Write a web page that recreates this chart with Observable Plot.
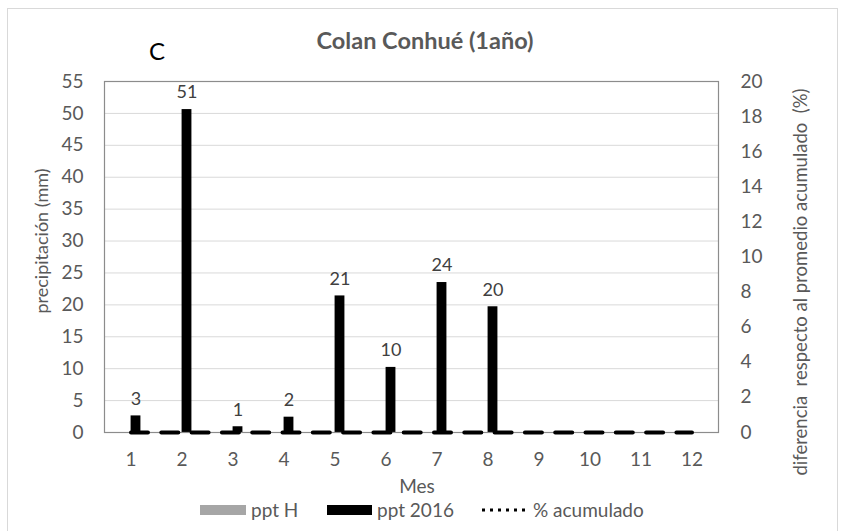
<!DOCTYPE html>
<html>
<head>
<meta charset="utf-8">
<script src="https://cdn.jsdelivr.net/npm/d3@7"></script>
<script src="https://cdn.jsdelivr.net/npm/@observablehq/plot@0.6"></script>
<style>
  html, body { margin: 0; padding: 0; background: #fff; }
  #chart svg { display: block; }
</style>
</head>
<body>
<div id="chart"></div>
<script>
// ---- data ----
const months = [1, 2, 3, 4, 5, 6, 7, 8, 9, 10, 11, 12];
const pptH = [0, 0, 0, 0, 0, 0, 0, 0, 0, 0, 0, 0];
const ppt2016 = [2.6, 50.6, 0.9, 2.4, 21.4, 10.2, 23.5, 19.7, 0, 0, 0, 0];
const pctAcumulado = [0, 0, 0, 0, 0, 0, 0, 0, 0, 0, 0, 0];
const leftTicks = [0, 5, 10, 15, 20, 25, 30, 35, 40, 45, 50, 55];
const rightTicks = [0, 2, 4, 6, 8, 10, 12, 14, 16, 18, 20];
const title = "Colan Conhué (1año)";
const panelLetter = "C";
const yLabelLeft = "precipitación (mm)";
const yLabelRight = "diferencia  respecto al promedio acumulado  (%)";
const xLabel = "Mes";
const legendLabels = ["ppt H", "ppt 2016", "% acumulado"];

const LEFT_MAX = 55, RIGHT_MAX = 20;
const toLeft = v => v * LEFT_MAX / RIGHT_MAX;

const rows = months.map((m, i) => ({month: m, pptH: pptH[i], ppt: ppt2016[i], pct: pctAcumulado[i]}));

const W = 841, H = 531;
const mL = 104, mR = 123, mT = 81, mB = 99;
const bw = (W - mL - mR) / months.length;

const font = "Lato, 'Open Sans', sans-serif";
const gray = "#595959";
const FS = 19;

const plot = Plot.plot({
  width: W,
  height: H,
  marginLeft: mL,
  marginRight: mR,
  marginTop: mT,
  marginBottom: mB,
  style: {fontFamily: font, fontSize: FS + "px", color: gray, background: "transparent"},
  x: {type: "band", domain: months, padding: 0, label: null},
  y: {domain: [0, LEFT_MAX], label: null},
  marks: [
    Plot.ruleY(leftTicks.filter(d => d > 0 && d < LEFT_MAX), {stroke: "#d9d9d9", strokeWidth: 1}),
    Plot.barY(rows, {x: "month", y: "pptH", fill: "#a6a6a6", insetLeft: bw / 2 - 10, insetRight: bw / 2}),
    Plot.barY(rows, {x: "month", y: "ppt", fill: "black", insetLeft: bw / 2, insetRight: bw / 2 - 10}),
    Plot.frame({stroke: "#8c8c8c", strokeWidth: 1.2}),
    Plot.lineY(rows, {x: "month", y: d => toLeft(d.pct), stroke: "black", strokeWidth: 4, strokeDasharray: "17,13.3"}),
    Plot.text(rows.filter(d => d.ppt > 0), {x: "month", y: "ppt", text: d => String(Math.round(d.ppt)), dx: 5, dy: -17, fill: "#404040", fontSize: 18}),
    Plot.axisY(leftTicks, {anchor: "left", tickSize: 0, tickPadding: 21, label: null, fontSize: FS}),
    Plot.axisY(rightTicks.map(toLeft), {anchor: "right", tickSize: 0, tickPadding: 22, label: null, fontSize: FS, tickFormat: d => String(Math.round(d * RIGHT_MAX / LEFT_MAX))}),
    Plot.axisX({tickSize: 0, tickPadding: 20, label: null, fontSize: FS})
  ]
});

document.getElementById("chart").appendChild(plot);

// ---- annotations: border, title, axis titles, legend ----
const svg = d3.select(plot);
svg.insert("rect", ":first-child")
  .attr("x", 7.5).attr("y", 8.5).attr("width", 830).attr("height", 560)
  .attr("fill", "white").attr("stroke", "#d9d9d9").attr("stroke-width", 1);

const g = svg.append("g").attr("font-family", font).attr("text-anchor", "start");

g.append("text").attr("x", 425).attr("y", 49).attr("text-anchor", "middle")
  .attr("font-size", 23.5).attr("font-weight", "bold").attr("fill", gray).text(title);

g.append("text").attr("x", 157).attr("y", 60).attr("text-anchor", "middle")
  .attr("font-size", 24).attr("fill", "black").text(panelLetter);

g.append("text").attr("transform", "translate(48,241) rotate(-90)").attr("text-anchor", "middle")
  .attr("font-size", 18).attr("fill", gray).text(yLabelLeft);

g.append("text").attr("transform", "translate(807,282) rotate(-90)").attr("text-anchor", "middle")
  .attr("font-size", 18.5).attr("fill", gray).style("white-space", "pre").attr("xml:space", "preserve").text(yLabelRight);

g.append("text").attr("x", 417).attr("y", 493).attr("text-anchor", "middle")
  .attr("font-size", FS).attr("fill", gray).text(xLabel);

// legend
const ly = 510;
g.append("rect").attr("x", 200).attr("y", ly - 5).attr("width", 46).attr("height", 10).attr("fill", "#a6a6a6");
g.append("text").attr("x", 251).attr("y", ly + 7).attr("font-size", FS).attr("fill", gray).text(legendLabels[0]);
g.append("rect").attr("x", 327).attr("y", ly - 5).attr("width", 45).attr("height", 10).attr("fill", "black");
g.append("text").attr("x", 377).attr("y", ly + 7).attr("font-size", FS).attr("fill", gray).text(legendLabels[1]);
g.append("line").attr("x1", 482).attr("x2", 530).attr("y1", ly).attr("y2", ly)
  .attr("stroke", "black").attr("stroke-width", 3).attr("stroke-dasharray", "3,5");
g.append("text").attr("x", 533).attr("y", ly + 7).attr("font-size", FS).attr("fill", gray).text(legendLabels[2]);
</script>
</body>
</html>
